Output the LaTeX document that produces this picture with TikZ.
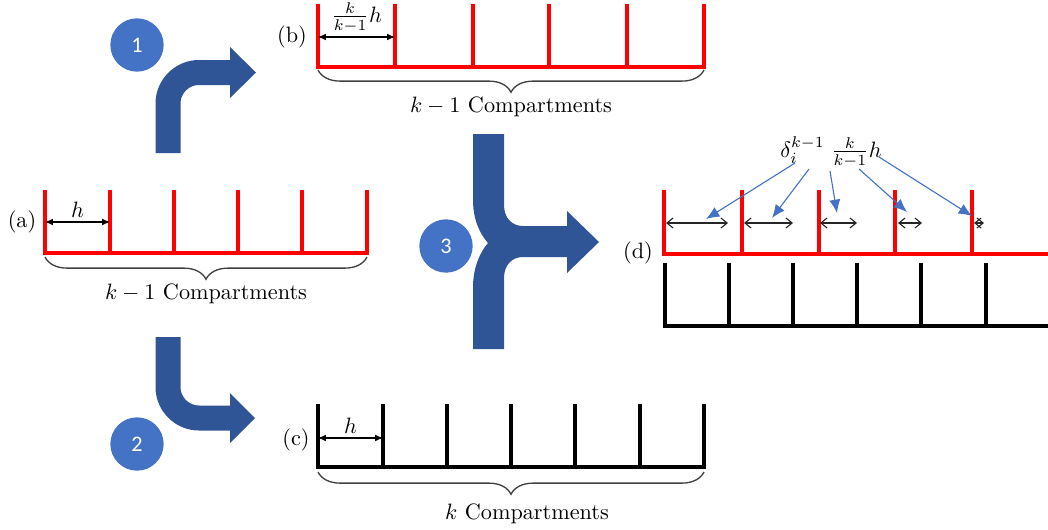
\documentclass[tikz,border=0pt]{standalone}
\usepackage{amsmath}
\usepackage{fontspec}
\newfontfamily\numfont{Carlito}
\usetikzlibrary{arrows.meta,decorations.pathreplacing,positioning,calc}
\definecolor{mlred}{RGB}{255,0,0}
\definecolor{mlblue}{RGB}{68,114,196}
\definecolor{mlnavy}{RGB}{47,85,151}

\begin{document}
\begin{tikzpicture}[x=0.45pt, y=-0.45pt,
  comb/.style={line width=1.4pt},
  dim/.style={{Latex[length=3.5pt,width=3pt]}-{Latex[length=3.5pt,width=3pt]}, line width=0.5pt},
  gap/.style={{Straight Barb[length=2.8pt,width=4.5pt]}-{Straight Barb[length=2.8pt,width=4.5pt]}, line width=0.5pt, black!85},
  pointer/.style={-{Latex[length=6pt,width=5pt]}, mlblue, line width=0.5pt},
  brace/.style={decorate, decoration={brace, mirror, amplitude=10pt}, line width=0.6pt, black!75},
  badge/.style={circle, fill=mlblue, minimum size=24pt, inner sep=0pt, text=white, font=\numfont\fontsize{10}{12}\selectfont},
  bigarrow/.style={mlnavy, line width=11.25pt, rounded corners=14pt}]
  \useasboundingbox (0,0) rectangle (1048,529);

  % (a) k-1 compartments of width h
  \draw[comb, mlred] (45,190) |- (367,253) -- (367,190);
  \foreach \x in {110,174,238,302} \draw[comb, mlred] (\x,190) -- (\x,253);
  \coordinate (a0) at (45,222); \coordinate (a1) at (110,222);
  \draw[dim] (a0) -- node[above, inner sep=2pt] (hA) {$h$} (a1);
  \node (labA) at (22,222) {(a)};
  \draw[brace] (45,257) -- (367,257);
  \node (capA) at (206,294) {$k-1$ Compartments};

  % (b) stretched compartments
  \draw[comb, mlred] (318,4) |- (704,67) -- (704,4);
  \foreach \x in {395,473,549,627} \draw[comb, mlred] (\x,4) -- (\x,67);
  \coordinate (b0) at (318,37); \coordinate (b1) at (395,37);
  \draw[dim] (b0) -- node[above, inner sep=2pt] (hB) {$\frac{k}{k-1}h$} (b1);
  \node (labB) at (292,37) {(b)};
  \draw[brace] (318,70) -- (704,70);
  \node (capB) at (511,107) {$k-1$ Compartments};

  % (c) k compartments of width h
  \draw[comb] (318,404) |- (704,467) -- (704,404);
  \foreach \x in {383,447,511,575,640} \draw[comb] (\x,404) -- (\x,467);
  \coordinate (c0) at (318,438); \coordinate (c1) at (383,438);
  \draw[dim] (c0) -- node[above, inner sep=2pt] (hC) {$h$} (c1);
  \node (labC) at (296,440) {(c)};
  \draw[brace] (318,472) -- (704,472);
  \node (capC) at (527,514) {$k$ Compartments};

  % (d) overlay of (b) on (c)
  \draw[comb, mlred] (664,190) |- (1048,254);
  \foreach \x in {742,819,895,972} \draw[comb, mlred] (\x,190) -- (\x,254);
  \draw[comb] (665,263) |- (1048,326);
  \foreach \x in {729,793,857,921,986} \draw[comb] (\x,263) -- (\x,326);
  \node (labD) at (638,253) {(d)};
  \foreach \l/\r [count=\i] in {666/728,744/793,820/857,898/922,974/984} {
    \coordinate (g\i l) at (\l,223); \coordinate (g\i r) at (\r,223);
    \draw[gap] (g\i l) -- (g\i r);
  }
  \node (delta) at (831,152) {$\delta_i^{k-1}\;\frac{k}{k-1}h$};
  \foreach \sx/\sy/\ex/\ey [count=\i] in {795/163/706/219, 809/169/772/218, 830/171/837/213, 859/169/907/212, 879/157/972/216} {
    \coordinate (s\i) at (\sx,\sy); \coordinate (e\i) at (\ex,\ey);
    \draw[pointer] (s\i) -- (e\i);
  }

  % step arrows
  \draw[bigarrow] (168,153) |- (232,72.5);
  \fill[mlnavy] (230,47) -- (256,72.5) -- (230,98) -- cycle;
  \draw[bigarrow] (168,337) |- (232,418);
  \fill[mlnavy] (230,393) -- (255,418) -- (230,443) -- cycle;
  \fill[mlnavy] (473,134) -- (504,134) -- (504,205) .. controls (504,218) and (512,226) .. (523,226)
    -- (567,226) -- (567,211) -- (599,242) -- (567,273) -- (567,257) -- (523,257)
    .. controls (512,257) and (504,265) .. (504,278) -- (504,349) -- (473,349) -- (473,287)
    .. controls (473,268) and (480,252) .. (488,243) .. controls (480,234) and (473,220) .. (473,200) -- cycle;

  \node[badge] (one) at (137,45) {1};
  \node[badge] (two) at (137,444) {2};
  \node[badge] (three) at (446,246) {3};
\end{tikzpicture}
\end{document}
